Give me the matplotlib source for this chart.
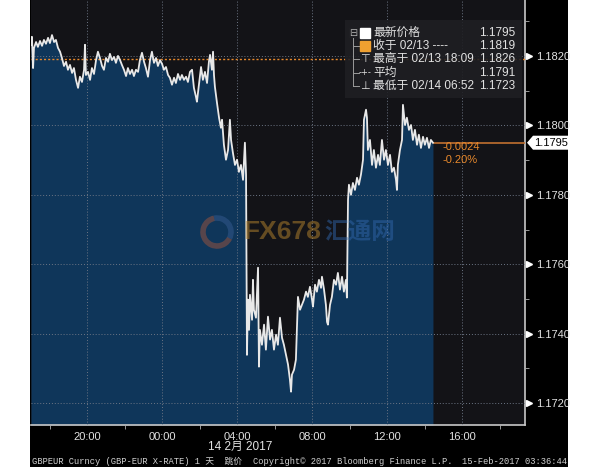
import matplotlib
matplotlib.use("Agg")
import matplotlib.pyplot as plt
import matplotlib.patches as mpatches
from matplotlib.ticker import MultipleLocator, FixedLocator

# ---------------- data (hours since 00:00 13-Feb, GBPEUR price) ----------------
hours = [17.00, 17.05, 17.11, 17.16, 17.27, 17.37, 17.48, 17.59, 17.69, 17.80, 17.91, 18.01, 18.12, 18.23,
         18.33, 18.44, 18.55, 18.65, 18.76, 18.87, 18.97, 19.08, 19.19, 19.29, 19.40, 19.51, 19.61, 19.72,
         19.83, 19.88, 19.93, 20.04, 20.15, 20.25, 20.36, 20.47, 20.57, 20.68, 20.79, 20.89, 21.00, 21.11,
         21.21, 21.32, 21.43, 21.53, 21.64, 21.75, 21.85, 21.96, 22.07, 22.17, 22.28, 22.39, 22.49, 22.60,
         22.71, 22.81, 22.92, 23.03, 23.13, 23.24, 23.35, 23.45, 23.56, 23.67, 23.77, 23.88, 23.99, 24.09,
         24.20, 24.31, 24.41, 24.52, 24.63, 24.73, 24.84, 24.95, 25.05, 25.16, 25.27, 25.37, 25.48, 25.59,
         25.69, 25.80, 25.85, 25.96, 26.07, 26.17, 26.28, 26.39, 26.49, 26.55, 26.65, 26.71, 26.76, 26.81,
         26.92, 27.03, 27.13, 27.19, 27.29, 27.40, 27.51, 27.61, 27.67, 27.77, 27.88, 27.99, 28.09, 28.20,
         28.31, 28.41, 28.47,
         28.52, 28.57, 28.63, 28.68, 28.79, 28.84, 28.89, 29.00, 29.11, 29.16, 29.21, 29.32, 29.43, 29.53,
         29.64, 29.75, 29.85, 29.96, 30.07, 30.17, 30.28, 30.39, 30.49, 30.60, 30.71, 30.81, 30.87, 30.92,
         31.03, 31.13, 31.24, 31.35, 31.45, 31.56, 31.67, 31.77, 31.88, 31.99, 32.04, 32.15, 32.25, 32.36,
         32.47, 32.52, 32.63, 32.73, 32.79, 32.84, 32.95, 33.05, 33.16, 33.27, 33.37, 33.48, 33.59, 33.69,
         33.80, 33.85,
         33.91, 33.96, 34.07, 34.17, 34.28, 34.39, 34.49, 34.60, 34.71, 34.76, 34.87, 34.92, 34.97, 35.08,
         35.19, 35.29, 35.40, 35.51, 35.61, 35.72, 35.83, 35.93, 36.04, 36.15, 36.25, 36.36, 36.47, 36.52,
         36.57, 36.68, 36.79, 36.84, 36.95, 37.05, 37.16, 37.27, 37.37, 37.48, 37.59, 37.69, 37.80, 37.91,
         38.01, 38.12, 38.23, 38.33, 38.44]

prices = [1.18232, 1.18255, 1.18165, 1.18223, 1.18240, 1.18226, 1.18243, 1.18229, 1.18246, 1.18235, 1.18252,
          1.18237, 1.18260, 1.18240, 1.18246, 1.18223, 1.18212, 1.18194, 1.18171, 1.18183, 1.18160, 1.18174,
          1.18151, 1.18165, 1.18131, 1.18108, 1.18140, 1.18125, 1.18160, 1.18232, 1.18145, 1.18154, 1.18131,
          1.18165, 1.18148, 1.18188, 1.18212, 1.18194, 1.18171, 1.18160, 1.18194, 1.18183, 1.18206, 1.18188,
          1.18197, 1.18180, 1.18200, 1.18188, 1.18174, 1.18160, 1.18142, 1.18165, 1.18148, 1.18160, 1.18142,
          1.18160, 1.18154, 1.18188, 1.18209, 1.18183, 1.18165, 1.18140, 1.18188, 1.18212, 1.18180, 1.18194,
          1.18171, 1.18188, 1.18177, 1.18160, 1.18168, 1.18145, 1.18137, 1.18117, 1.18137, 1.18122, 1.18148,
          1.18131, 1.18145, 1.18131, 1.18140, 1.18125, 1.18154, 1.18160, 1.18108, 1.18082, 1.18068, 1.18117,
          1.18168, 1.18131, 1.18154, 1.18122, 1.18183, 1.18203, 1.18160, 1.18212, 1.18145, 1.18111, 1.18065,
          1.18022, 1.17993, 1.18016, 1.17944, 1.17901, 1.17929, 1.18016, 1.17958, 1.17921, 1.17886, 1.17901,
          1.17866, 1.17886, 1.17843, 1.17950, 1.17858,
          1.17339, 1.17498, 1.17411, 1.17512, 1.17440, 1.17555, 1.17469, 1.17446, 1.17590, 1.17305, 1.17411,
          1.17368, 1.17426, 1.17354, 1.17449, 1.17383, 1.17411, 1.17354, 1.17397, 1.17368, 1.17446, 1.17388,
          1.17368, 1.17339, 1.17311, 1.17268, 1.17233, 1.17282, 1.17296, 1.17325, 1.17506, 1.17469, 1.17483,
          1.17498, 1.17521, 1.17506, 1.17535, 1.17498, 1.17478, 1.17541, 1.17521, 1.17555, 1.17532, 1.17564,
          1.17527, 1.17483, 1.17434, 1.17426, 1.17483, 1.17506, 1.17555, 1.17541, 1.17575, 1.17527, 1.17564,
          1.17521, 1.17555, 1.17504,
          1.17786, 1.17829, 1.17800, 1.17834, 1.17814, 1.17849, 1.17829, 1.17858, 1.17901, 1.18016, 1.18045,
          1.18022, 1.17929, 1.17958, 1.17886, 1.17929, 1.17878, 1.17915, 1.17886, 1.17958, 1.17901, 1.17929,
          1.17886, 1.17915, 1.17866, 1.17878, 1.17843, 1.17814, 1.17886, 1.17929, 1.17958, 1.18059, 1.18001,
          1.18022, 1.17987, 1.18001, 1.17958, 1.17987, 1.17944, 1.17973, 1.17935, 1.17967, 1.17944, 1.17964,
          1.17935, 1.17958, 1.17950]

prev_close = 1.1819
x_ticks = [20, 24, 28, 32, 36, 40]
x_tick_labels = ["20:00", "00:00", "04:00", "08:00", "12:00", "16:00"]
x_minor_ticks = [18, 22, 26, 30, 34, 38, 42]
y_ticks = [1.1720, 1.1740, 1.1760, 1.1780, 1.1800, 1.1820]

legend_labels = ["最新价格", "收于 02/13 ----", "最高于 02/13 18:09", "平均", "最低于 02/14 06:52"]
legend_values = ["1.1795", "1.1819", "1.1826", "1.1791", "1.1723"]

X_MIN, X_MAX = 17.0, 43.35
Y_MIN, Y_MAX = 1.17137, 1.18361

# ---------------- styling ----------------
W, H = 600, 467
FONT = ["Liberation Sans", "Noto Sans CJK SC", "DejaVu Sans"]
MONO = ["Liberation Mono", "Noto Sans CJK SC", "DejaVu Sans"]
TXT = "#e2e2e2"
ORANGE = "#e8892c"

fig = plt.figure(figsize=(W / 100, H / 100), dpi=100)
fig.patch.set_facecolor("white")
fig.patches.append(mpatches.Rectangle((30 / W, 0), 538 / W, 1, transform=fig.transFigure,
                                      facecolor="black", edgecolor="none", zorder=-10))

ax_l, ax_r, ax_b = 31, 525, 425
ax = fig.add_axes([ax_l / W, (H - ax_b) / H, (ax_r - ax_l) / W, ax_b / H])
ax.set_facecolor("#131317")
ax.set_xlim(X_MIN, X_MAX)
ax.set_ylim(Y_MIN, Y_MAX)
ax.set_axisbelow(False)

for s in ("top", "left"):
    ax.spines[s].set_visible(False)
for s in ("right", "bottom"):
    ax.spines[s].set_color("#c8c8c8")
    ax.spines[s].set_linewidth(1.2)

# fill + line
ax.fill_between(hours, prices, Y_MIN, color="#0f365a", lw=0, zorder=1)
ax.plot(hours, prices, color="#e8e8e8", lw=1.3, zorder=3)

# grid
ax.set_xticks(x_ticks)
ax.set_xticklabels(x_tick_labels)
ax.xaxis.set_minor_locator(FixedLocator(x_minor_ticks))
ax.yaxis.tick_right()
ax.set_yticks(y_ticks)
ax.set_yticklabels([f"{v:.4f}" for v in y_ticks])
ax.yaxis.set_minor_locator(MultipleLocator(0.001))
ax.grid(True, which="major", color="#6c7584", linestyle=(0, (1, 2)), lw=0.7)

ax.tick_params(axis="x", which="major", length=0, pad=5, labelsize=8, labelcolor=TXT)
ax.tick_params(axis="x", which="minor", length=3, color="#b0b0b0", direction="out")
ax.tick_params(axis="y", which="major", length=0, pad=8, labelsize=8, labelcolor=TXT)
ax.tick_params(axis="y", which="minor", length=3, color="#b0b0b0", direction="out")
for lab in ax.get_xticklabels() + ax.get_yticklabels():
    lab.set_family(FONT)

# triangles at y labels
ax.plot([1.009] * len(y_ticks), y_ticks, ls="none", marker=">", ms=4, color="white",
        transform=ax.get_yaxis_transform(), clip_on=False, zorder=6)

# previous close line
ax.axhline(prev_close, color=ORANGE, ls=(0, (1.5, 1.5)), lw=1.0, zorder=2.6)

# last price line + tag
last = prices[-1]
ax.hlines(last, hours[-1], X_MAX, color="#c07030", lw=1.2, zorder=2.6)
ypp = (Y_MAX - Y_MIN) / ax_b
xpp = 1 / (ax_r - ax_l)
tag = [(1 + 2 * xpp, last), (1 + 8 * xpp, last + 7 * ypp), (1 + 43 * xpp, last + 7 * ypp),
       (1 + 43 * xpp, last - 7 * ypp), (1 + 8 * xpp, last - 7 * ypp)]
ax.add_patch(mpatches.Polygon(tag, closed=True, facecolor="white", edgecolor="none",
                              transform=ax.get_yaxis_transform(), clip_on=False, zorder=7))
ax.text(1 + 26 * xpp, last, f"{last:.4f}", transform=ax.get_yaxis_transform(), ha="center",
        va="center", fontsize=8, color="black", family=FONT, zorder=8, clip_on=False)

chg = last - prev_close
ax.annotate(f"{chg:+.4f}".replace("+", ""), xy=(hours[-1], last), xytext=(7, -3),
            textcoords="offset points", va="center", ha="left", fontsize=8, color=ORANGE, family=FONT)
ax.annotate(f"{chg / prev_close * 100:.2f}%", xy=(hours[-1], last), xytext=(7, -12.5),
            textcoords="offset points", va="center", ha="left", fontsize=8, color=ORANGE, family=FONT)

# legend box
def fx(px):
    return (px - ax_l) / (ax_r - ax_l)

def fy(py):
    return 1 - py / ax_b

ax.add_patch(mpatches.Rectangle((fx(345), fy(98)), fx(522) - fx(345), fy(20) - fy(98),
                                transform=ax.transAxes, facecolor="#1f1f23", alpha=0.9,
                                edgecolor="none", zorder=5))
row_y = [33 + 13.2 * i for i in range(len(legend_labels))]
ax.plot([fx(353), fx(353)], [fy(row_y[0]), fy(row_y[-1])], transform=ax.transAxes,
        color="#9a9a9a", lw=0.7, zorder=6)
ax.text(fx(353), fy(row_y[0]), "⊟", transform=ax.transAxes, ha="center", va="center",
        fontsize=7, color="#b0b0b0", zorder=7, family="DejaVu Sans",
        bbox=dict(boxstyle="square,pad=0", fc="#1f1f23", ec="none"))
for i, yy in enumerate(row_y):
    if i > 0:
        ax.plot([fx(353), fx(359)], [fy(yy), fy(yy)], transform=ax.transAxes,
                color="#9a9a9a", lw=0.7, zorder=6)
    ax.text(fx(373), fy(yy), legend_labels[i], transform=ax.transAxes, ha="left", va="center",
            fontsize=8.5, color=TXT, family=FONT, zorder=7)
    ax.text(fx(515), fy(yy), legend_values[i], transform=ax.transAxes, ha="right", va="center",
            fontsize=8.5, color=TXT, family=FONT, zorder=7)
ax.plot([fx(365)], [fy(row_y[0])], marker="s", ms=7, color="white", transform=ax.transAxes, zorder=7)
ax.plot([fx(365)], [fy(row_y[1])], marker="s", ms=7, color="#f0a030", transform=ax.transAxes, zorder=7)
ax.text(fx(365), fy(row_y[2]), "⊤", transform=ax.transAxes, ha="center", va="center",
        fontsize=8, color=TXT, family="DejaVu Sans", zorder=7)
ax.text(fx(365), fy(row_y[3]), "-+-", transform=ax.transAxes, ha="center", va="center",
        fontsize=6, color=TXT, family="DejaVu Sans", zorder=7)
ax.text(fx(365), fy(row_y[4]), "⊥", transform=ax.transAxes, ha="center", va="center",
        fontsize=8, color=TXT, family="DejaVu Sans", zorder=7)

# watermark
ring_w, ring_h = 28 / (ax_r - ax_l), 28 / ax_b
ax.add_patch(mpatches.Arc((fx(217), fy(232)), ring_w, ring_h, theta1=100, theta2=330,
                          transform=ax.transAxes, color="#b0583a", lw=4, alpha=0.45, zorder=4))
ax.add_patch(mpatches.Arc((fx(217), fy(232)), ring_w, ring_h, theta1=-30, theta2=100,
                          transform=ax.transAxes, color="#3a6098", lw=4, alpha=0.45, zorder=4))
ax.text(fx(243), fy(232), "FX678", transform=ax.transAxes, ha="left", va="center", fontsize=19,
        fontweight="bold", color="#b8862e", alpha=0.5, family="Liberation Sans", zorder=4)
ax.text(fx(324), fy(232), "汇通网", transform=ax.transAxes, ha="left", va="center", fontsize=17,
        fontweight="bold", color="#2f64a8", alpha=0.5, family=["Noto Sans CJK SC"], zorder=4)

# date + footer
fig.text(240 / W, 1 - 447 / H, "14 2月 2017", ha="center", va="center", fontsize=8.5,
         color=TXT, family=FONT)
fig.text(32 / W, 1 - 461 / H, "GBPEUR Curncy (GBP-EUR X-RATE) 1 天  跳价", ha="left", va="center",
         fontsize=6.3, color="#d0d0d0", family=MONO)
fig.text(253 / W, 1 - 461 / H, "Copyright© 2017 Bloomberg Finance L.P.", ha="left", va="center",
         fontsize=6.3, color="#d0d0d0", family=MONO)
fig.text(567 / W, 1 - 461 / H, "15-Feb-2017 03:36:44", ha="right", va="center",
         fontsize=6.3, color="#d0d0d0", family=MONO)

fig.savefig("out.png", dpi=100, facecolor=fig.get_facecolor())
